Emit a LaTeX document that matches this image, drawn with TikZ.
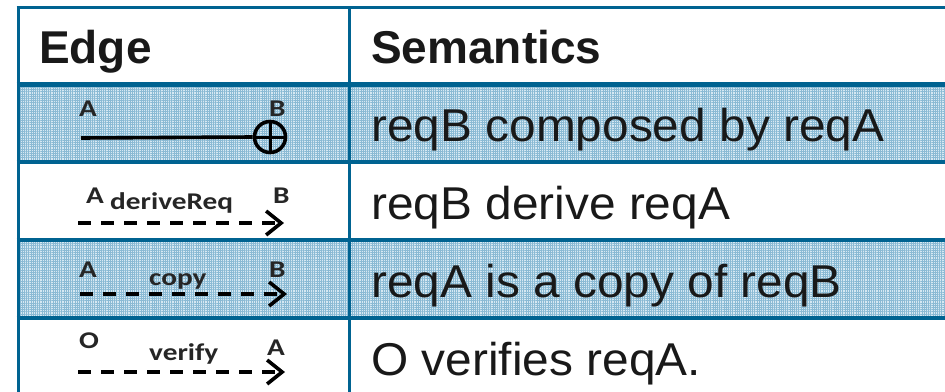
\documentclass[tikz,border=0pt]{standalone}
\usepackage{fontspec}
\setmainfont{Liberation Sans}
\newfontfamily\labelfont{Carlito}
\usetikzlibrary{arrows.meta,patterns.meta}

\definecolor{rule}{RGB}{0,99,145}
\definecolor{shade}{RGB}{214,232,242}
\definecolor{meshline}{RGB}{138,186,212}

\tikzset{
  head/.style={font=\fontsize{46}{50}\selectfont\bfseries, anchor=base west, inner sep=0pt, text=black!90},
  meaning/.style={font=\fontsize{46}{50}\selectfont, anchor=base west, inner sep=0pt, text=black!90},
  endlabel/.style={font=\labelfont\bfseries\fontsize{24}{26}\selectfont, anchor=base west, inner sep=0pt, text=black!85},
  edgeline/.style={line width=3.6pt, black},
  dashedge/.style={edgeline, dash pattern=on 13pt off 10pt,
    -{Straight Barb[length=15pt,width=24pt,line width=3.6pt]}},
  rowshade/.style={fill=shade},
  mesh/.style={pattern={Lines[angle=0,distance=2.2pt,line width=0.6pt]}, pattern color=meshline},
  meshv/.style={pattern={Lines[angle=90,distance=2.2pt,line width=0.6pt]}, pattern color=meshline},
  tablerule/.style={draw=rule, line width=3.4pt},
}
\newcommand{\stretched}[1]{\scalebox{1.22}[1]{#1}}
\newcommand{\widened}[1]{\scalebox{1.04}[1]{#1}}

\begin{document}
\begin{tikzpicture}[x=1pt,y=-1pt]
  \useasboundingbox (0,0) rectangle (945,391);
  \fill[white] (0,0) rectangle (945,391);

  % shaded rows
  \foreach \top in {84,240} {
    \fill[rowshade] (18,\top) rectangle (950,\top+78);
    \fill[mesh] (18,\top) rectangle (950,\top+78);
    \fill[meshv] (18,\top) rectangle (950,\top+78);
  }

  % table rules
  \draw[tablerule, line width=3pt] (16.5,7.5) -- (950,7.5);
  \draw[tablerule, line width=5pt] (16.5,84.5) -- (950,84.5);
  \foreach \y in {162,240,318}
    \draw[tablerule] (16.5,\y) -- (950,\y);
  \draw[tablerule, line width=3pt] (18,6) -- (18,395);
  \draw[tablerule, line width=3pt] (349,6) -- (349,395);

  % header
  \node[head] (hedge) at (39,63) {Edge};
  \node[head] (hsem) at (371,63) {Semantics};

  % row 1: composition
  \node[endlabel] (a1) at (79,116) {\stretched{A}};
  \node[endlabel] (b1) at (269,116) {\stretched{B}};
  \coordinate (s1) at (81,138);
  \node[circle, draw, line width=3.6pt, minimum size=31pt, inner sep=0pt] (c1) at (270,137) {};
  \draw[edgeline] (s1) -- (c1.west);
  \draw[line width=3pt] (c1.north) -- (c1.south) (c1.west) -- (c1.east);
  \node[meaning] (m1) at (371,141) {\widened{reqB composed by reqA}};

  % row 2: derivation
  \node[endlabel] (a2) at (86,203) {\stretched{A}};
  \node[endlabel] (l2) at (110,209) {\stretched{deriveReq}};
  \node[endlabel] (b2) at (273,203) {\stretched{B}};
  \coordinate (s2) at (78,223);
  \coordinate (t2) at (284,223);
  \draw[dashedge] (s2) -- (t2);
  \node[meaning] (m2) at (371,219) {\widened{reqB derive reqA}};

  % row 3: copy
  \node[endlabel] (a3) at (79,277) {\stretched{A}};
  \node[endlabel] (l3) at (149,285) {\stretched{copy}};
  \node[endlabel] (b3) at (269,277) {\stretched{B}};
  \coordinate (s3) at (80,294);
  \coordinate (t3) at (287,294);
  \draw[dashedge] (s3) -- (t3);
  \node[meaning] (m3) at (371,297) {\widened{reqA is a copy of reqB}};

  % row 4: verification
  \node[endlabel] (o4) at (79,348) {\stretched{O}};
  \node[endlabel] (l4) at (149,360) {\stretched{verify}};
  \node[endlabel] (a4) at (267,355) {\stretched{A}};
  \coordinate (s4) at (78,372);
  \coordinate (t4) at (285,372);
  \draw[dashedge] (s4) -- (t4);
  \node[meaning] (m4) at (371,375) {\widened{O verifies reqA.}};
\end{tikzpicture}
\end{document}
